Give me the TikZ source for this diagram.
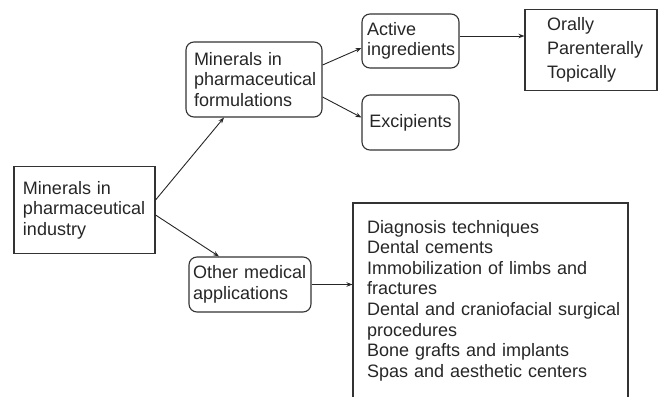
\documentclass[tikz,border=0pt]{standalone}
\usepackage{fontspec}
\setmainfont{Liberation Sans}
\usetikzlibrary{arrows.meta}
\hyphenpenalty=10000
\exhyphenpenalty=10000
\hbadness=10000
\hfuzz=50pt
\begin{document}
\begin{tikzpicture}[x=1pt,y=-1pt,
  box/.style={draw=black!80, line width=1.1pt, align=left, text=black!85,
    font=\fontsize{18}{20.5}\selectfont, inner ysep=0pt},
  rbox/.style={box, rounded corners=8pt},
  arr/.style={line width=0.9pt, draw=black!85, -{Stealth[length=6pt,width=4.5pt]}}]
\useasboundingbox (0,0) rectangle (658,396);
\clip (0,0) rectangle (658,396);
\node[box, inner xsep=9pt, text width=123pt, minimum height=87pt] (ind) at (84.5,210)
  {Minerals in\\pharmaceutical\\industry};
\node[rbox, inner xsep=8pt, text width=120pt, minimum height=75pt] (form) at (254,79.5)
  {Minerals in\\pharmaceutical\\formulations};
\node[rbox, inner xsep=4pt, text width=114pt, minimum height=55pt] (other) at (250,284.5)
  {Other medical\\applications};
\node[rbox, inner xsep=5pt, text width=87pt, minimum height=54pt] (act) at (410.5,41)
  {Active\\ingredients};
\node[rbox, align=center, inner xsep=0pt, text width=97pt, minimum height=55pt] (exc) at (410.5,122.5)
  {Excipients};
\node[box, inner xsep=22pt, text width=88pt, minimum height=81pt,
  font=\fontsize{18}{24}\selectfont] (route) at (591,50)
  {Orally\\Parenterally\\Topically};
\node[box, inner xsep=14pt, text width=247pt, minimum height=195pt,
  font=\fontsize{18}{20.6}\selectfont] (uses) at (490.5,300.5)
  {Diagnosis techniques\\Dental cements\\Immobilization of limbs and\\fractures\\\mbox{Dental and craniofacial surgical}\\procedures\\Bone grafts and implants\\Spas and aesthetic centers};
\draw[arr] ([yshift=10pt]ind.east) -- ([xshift=-30pt]form.south);
\draw[arr] ([yshift=-5pt]ind.east) -- ([xshift=-31pt]other.north);
\draw[arr] ([yshift=14.5pt]form.east) -- ([yshift=-7pt]act.west);
\draw[arr] ([yshift=-17.5pt]form.east) -- ([yshift=5pt]exc.west);
\draw[arr] ([yshift=5pt]act.east) -- ([yshift=5pt]act.east -| route.west);
\draw[arr] (other.east) -- (other.east -| uses.west);
\end{tikzpicture}
\end{document}
